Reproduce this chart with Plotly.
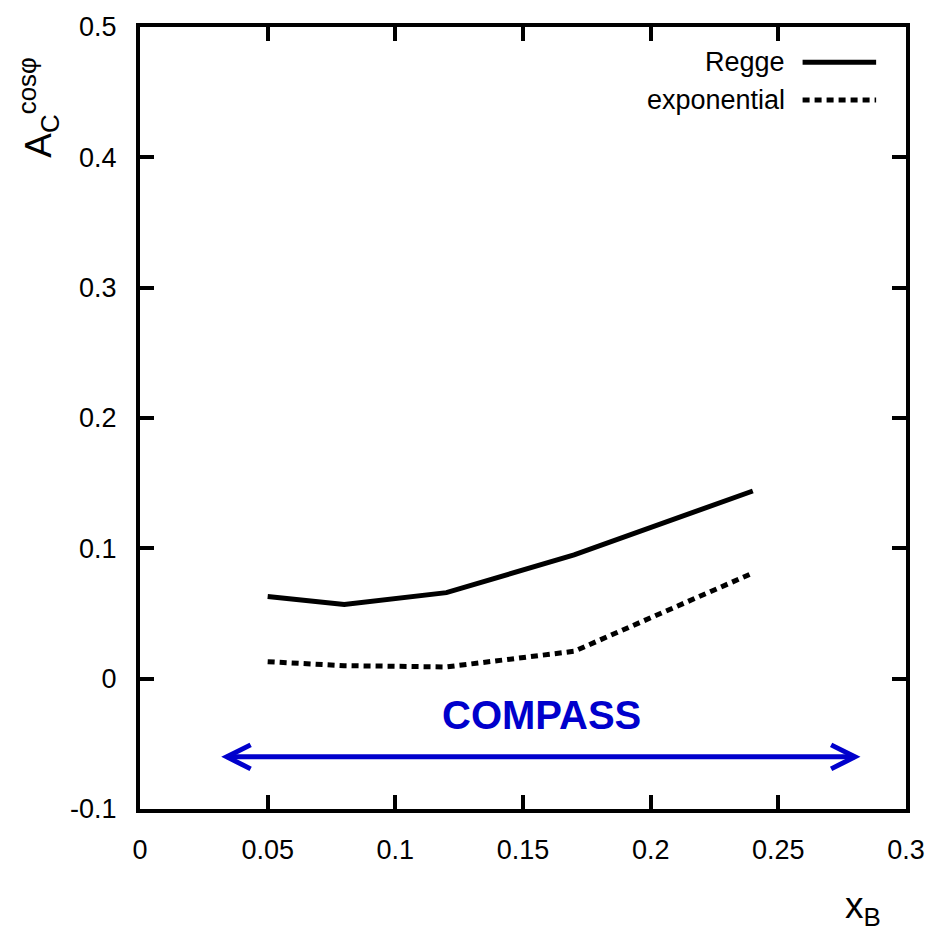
import plotly.graph_objects as go

# Data
x_B = [0.05, 0.08, 0.12, 0.17, 0.24]
regge = [0.063, 0.057, 0.066, 0.095, 0.144]
exponential = [0.013, 0.010, 0.009, 0.021, 0.081]

x_ticks = [0, 0.05, 0.1, 0.15, 0.2, 0.25, 0.3]
x_ticklabels = ["0", "0.05", "0.1", "0.15", "0.2", "0.25", "0.3"]
y_ticks = [-0.1, 0, 0.1, 0.2, 0.3, 0.4, 0.5]
y_ticklabels = ["-0.1", "0", "0.1", "0.2", "0.3", "0.4", "0.5"]

compass_range = [0.034, 0.28]
compass_y = -0.060
compass_label_pos = (0.1574, -0.028)

FONT = "Liberation Sans, Arial"
BLUE = "#0000CC"

fig = go.Figure()
fig.add_trace(go.Scatter(x=x_B, y=regge, mode="lines", name="Regge",
                         line=dict(color="black", width=5), showlegend=False))
fig.add_trace(go.Scatter(x=x_B, y=exponential, mode="lines", name="exponential",
                         line=dict(color="black", width=5, dash="7px,5px"), showlegend=False))

axis_common = dict(showline=True, mirror="allticks", linecolor="black", linewidth=4,
                   ticks="inside", ticklen=14, tickwidth=4, tickcolor="black",
                   showgrid=False, zeroline=False,
                   tickfont=dict(family=FONT, size=27, color="black"))

fig.update_layout(
    width=937, height=930,
    margin=dict(l=140, r=25, t=27, b=121),
    plot_bgcolor="white", paper_bgcolor="white",
    xaxis=dict(range=[0, 0.3], tickvals=x_ticks, ticktext=x_ticklabels,
               ticklabelstandoff=14, **axis_common),
    yaxis=dict(range=[-0.1, 0.5], tickvals=y_ticks, ticktext=y_ticklabels,
               ticklabelstandoff=14, **axis_common),
)

# axis titles
fig.add_annotation(xref="paper", yref="paper", x=-0.133, y=0.897,
                   xanchor="center", yanchor="middle",
                   text="A<sub>C</sub><sup>cosφ</sup>", textangle=-90, showarrow=False,
                   font=dict(family=FONT, size=37, color="black"))
fig.add_annotation(xref="paper", yref="paper", x=0.944, y=-0.126,
                   xanchor="center", yanchor="middle",
                   text="x<sub>B</sub>", showarrow=False,
                   font=dict(family=FONT, size=37, color="black"))

# legend (text left of sample)
legend_entries = [("Regge", "solid", 0.955), ("exponential", "7px,5px", 0.9066)]
for label, dash, yy in legend_entries:
    fig.add_annotation(xref="paper", yref="paper", x=0.8446, y=yy, xanchor="right",
                       yanchor="middle", text=label, showarrow=False,
                       font=dict(family=FONT, size=27, color="black"))
    fig.add_shape(type="line", xref="paper", yref="paper", x0=0.865, x1=0.961,
                  y0=yy, y1=yy, line=dict(color="black", width=5, dash=dash))

# COMPASS arrow
fig.add_shape(type="line", xref="x", yref="y", x0=compass_range[0], x1=compass_range[1],
              y0=compass_y, y1=compass_y, line=dict(color=BLUE, width=5))
hx = 24 / 2573.3  # head length in data units (px -> x)
hy = 12 / 1303.3  # head half-height in data units (px -> y)
xl, xr = compass_range
fig.add_shape(type="path", xref="x", yref="y",
              path=f"M {xl+hx},{compass_y+hy} L {xl},{compass_y} L {xl+hx},{compass_y-hy}",
              line=dict(color=BLUE, width=5))
fig.add_shape(type="path", xref="x", yref="y",
              path=f"M {xr-hx},{compass_y+hy} L {xr},{compass_y} L {xr-hx},{compass_y-hy}",
              line=dict(color=BLUE, width=5))
fig.add_annotation(x=compass_label_pos[0], y=compass_label_pos[1], text="<b>COMPASS</b>",
                   showarrow=False,
                   font=dict(family=FONT, size=40, color=BLUE))

fig.write_html("out.html")
